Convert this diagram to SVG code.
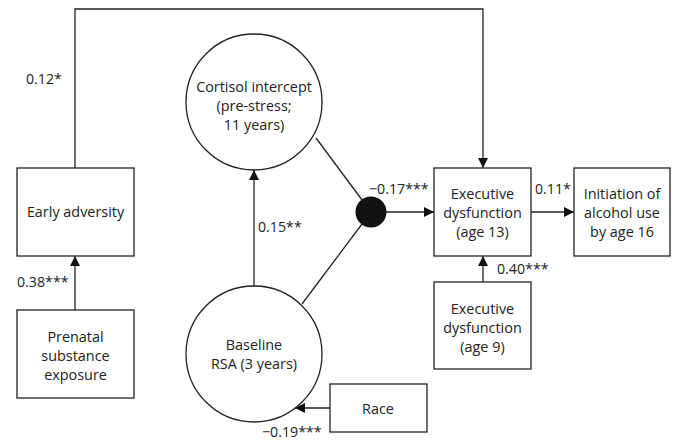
<svg xmlns="http://www.w3.org/2000/svg" width="677" height="446" viewBox="0 0 677 446">
<style>
.n{fill:#fff;stroke:#222;stroke-width:1.3}
.t{font-family:"Open Sans","Noto Sans",sans-serif;font-size:14.4px;fill:#222;text-anchor:middle;dominant-baseline:central}
.c{fill:none;stroke:#222;stroke-width:1.3}
.l{font-family:"Open Sans","Noto Sans",sans-serif;font-size:14.2px;fill:#222;dominant-baseline:central}
</style>
<defs>
<marker id="a" viewBox="0 0 10 10" refX="10" refY="5" markerWidth="10" markerHeight="10" markerUnits="userSpaceOnUse" orient="auto">
<path d="M0,0 L10,5 L0,10 Z" fill="#111"/>
</marker>
</defs>
<g id="connectors">
<path class="c" d="M75,168 V9 H483 V168" marker-end="url(#a)"/>
<path class="c" d="M75,310 V256" marker-end="url(#a)"/>
<path class="c" d="M254,286 V170" marker-end="url(#a)"/>
<path class="c" d="M316,138 L371,212"/>
<path class="c" d="M302,304 L371,212"/>
<path class="c" d="M371,212 H434" marker-end="url(#a)"/>
<path class="c" d="M531,212 H574" marker-end="url(#a)"/>
<path class="c" d="M483,282 V256" marker-end="url(#a)"/>
<path class="c" d="M330,408 H295" marker-end="url(#a)"/>
<text class="l" x="26" y="78">0.12*</text>
<text class="l" x="17" y="281">0.38***</text>
<text class="l" x="258" y="226">0.15**</text>
<text class="l" x="369" y="188">−0.17***</text>
<text class="l" x="535" y="188">0.11*</text>
<text class="l" x="497" y="268">0.40***</text>
<text class="l" x="262" y="431">−0.19***</text>
</g>
<g id="early-adversity">
<rect class="n" x="17" y="168" width="117" height="88"/>
<text class="t" x="75.5" y="211">Early adversity</text>
</g>
<g id="prenatal">
<rect class="n" x="17" y="310" width="117" height="88"/>
<text class="t" x="75.5" y="336">Prenatal</text>
<text class="t" x="75.5" y="355">substance</text>
<text class="t" x="75.5" y="374">exposure</text>
</g>
<g id="cortisol">
<circle class="n" cx="254" cy="102" r="68"/>
<text class="t" x="254" y="86">Cortisol intercept</text>
<text class="t" x="254" y="105">(pre-stress;</text>
<text class="t" x="254" y="124">11 years)</text>
</g>
<g id="rsa">
<circle class="n" cx="254" cy="354" r="68"/>
<text class="t" x="254" y="344">Baseline</text>
<text class="t" x="254" y="363">RSA (3 years)</text>
</g>
<g id="interaction">
<circle cx="371" cy="212" r="15.5" fill="#111"/>
</g>
<g id="exec13">
<rect class="n" x="434" y="168" width="97" height="88"/>
<text class="t" x="482.5" y="193.5">Executive</text>
<text class="t" x="482.5" y="212.5">dysfunction</text>
<text class="t" x="482.5" y="231.5">(age 13)</text>
</g>
<g id="alcohol">
<rect class="n" x="574" y="168" width="96" height="88"/>
<text class="t" x="622" y="193.5">Initiation of</text>
<text class="t" x="622" y="212.5">alcohol use</text>
<text class="t" x="622" y="231.5">by age 16</text>
</g>
<g id="exec9">
<rect class="n" x="434" y="282" width="97" height="87"/>
<text class="t" x="482.5" y="308">Executive</text>
<text class="t" x="482.5" y="327">dysfunction</text>
<text class="t" x="482.5" y="346">(age 9)</text>
</g>
<g id="race">
<rect class="n" x="330" y="384" width="97" height="48"/>
<text class="t" x="378" y="408">Race</text>
</g>
</svg>
